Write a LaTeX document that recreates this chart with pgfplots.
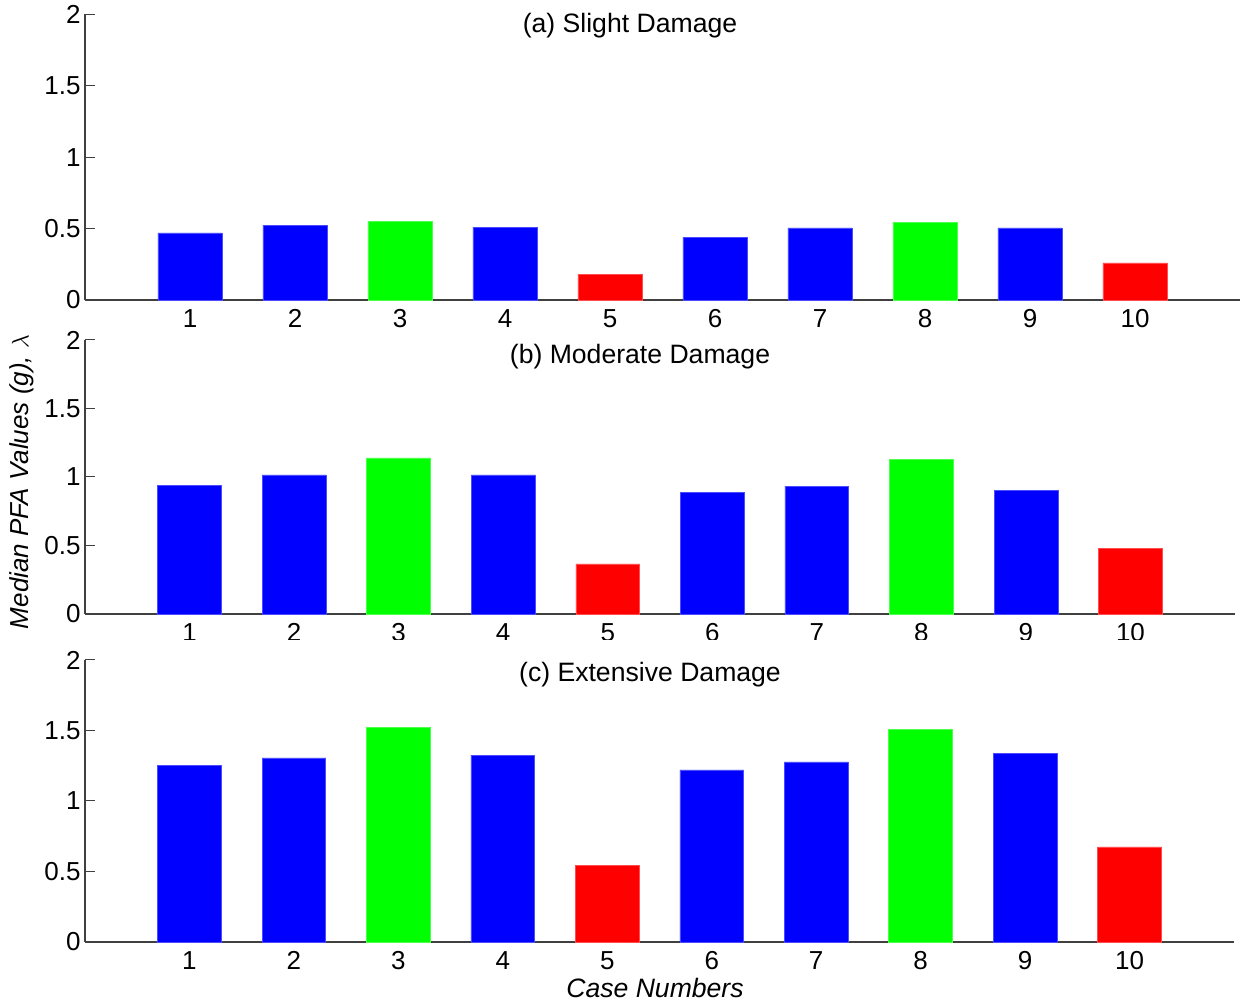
\documentclass[border=0pt]{standalone}
\usepackage{fontspec}
\setmainfont{Liberation Sans}
\usepackage{pgfplots}
\pgfplotsset{compat=1.18}
\definecolor{mblue}{RGB}{0,0,255}
\definecolor{mgreen}{RGB}{0,255,0}
\definecolor{mred}{RGB}{255,0,0}
\begin{document}
\begin{tikzpicture}
\path[use as bounding box] (0pt,0pt) rectangle (621pt,502.5pt);
\pgfplotsset{
  panel/.style={
    scale only axis, anchor=south west,
    xmin=0, xmax=11, ymin=0, ymax=2,
    axis x line*=bottom, axis y line*=left,
    axis line style={black!75, line width=0.6pt},
    ytick={0,0.5,1,1.5,2}, xtick={1,2,3,4,5,6,7,8,9,10},
    xtick style={draw=none},
    ytick style={black!75, line width=0.5pt},
    tick align=inside, major tick length=5pt,
    /pgf/number format/assume math mode=true,
    tick label style={font=\fontsize{13}{15}\selectfont, black},
    yticklabel style={inner sep=1pt, xshift=-1pt},
    xticklabel style={inner sep=1pt, yshift=1.5pt},
    ybar, bar width=0.61, bar shift=0pt,
    clip=false,
  }
}
% Panel (a)
\begin{axis}[panel, at={(42.5pt,352.5pt)}, width=577.5pt, height=142.75pt]
\addplot[fill=mblue, draw=mblue!70!white, line width=0.3pt] coordinates {(1,0.47) (2,0.525) (4,0.51) (6,0.44) (7,0.505) (9,0.505)};
\addplot[fill=mgreen, draw=mgreen!70!white, line width=0.3pt] coordinates {(3,0.553) (8,0.546)};
\addplot[fill=mred, draw=mred!70!white, line width=0.3pt] coordinates {(5,0.18) (10,0.26)};
\end{axis}
% Panel (b)
\begin{axis}[panel, at={(42.5pt,195.5pt)}, width=575pt, height=137pt]
\addplot[fill=mblue, draw=mblue!70!white, line width=0.3pt] coordinates {(1,0.94) (2,1.015) (4,1.015) (6,0.89) (7,0.934) (9,0.905)};
\addplot[fill=mgreen, draw=mgreen!70!white, line width=0.3pt] coordinates {(3,1.14) (8,1.13)};
\addplot[fill=mred, draw=mred!70!white, line width=0.3pt] coordinates {(5,0.365) (10,0.48)};
\end{axis}
\fill[white] (35pt,172.5pt) rectangle (621pt,182.5pt);
% Panel (c)
\begin{axis}[panel, at={(42.5pt,31.5pt)}, width=574.5pt, height=141pt]
\addplot[fill=mblue, draw=mblue!70!white, line width=0.3pt] coordinates {(1,1.255) (2,1.305) (4,1.325) (6,1.22) (7,1.277) (9,1.34)};
\addplot[fill=mgreen, draw=mgreen!70!white, line width=0.3pt] coordinates {(3,1.52) (8,1.51)};
\addplot[fill=mred, draw=mred!70!white, line width=0.3pt] coordinates {(5,0.545) (10,0.675)};
\end{axis}
\node[font=\fontsize{13.3}{15}\selectfont] at (315pt,489.5pt) {(a) Slight Damage};
\node[font=\fontsize{13.3}{15}\selectfont] at (320pt,324pt) {(b) Moderate Damage};
\node[font=\fontsize{13.3}{15}\selectfont] at (325pt,165pt) {(c) Extensive Damage};
\node[rotate=90, font=\itshape\fontsize{13}{15}\selectfont] at (11pt,261.5pt) {Median PFA Values (g), $\lambda$};
\node[font=\itshape\fontsize{13.3}{15}\selectfont] at (327.5pt,8.5pt) {Case Numbers};
\end{tikzpicture}
\end{document}
